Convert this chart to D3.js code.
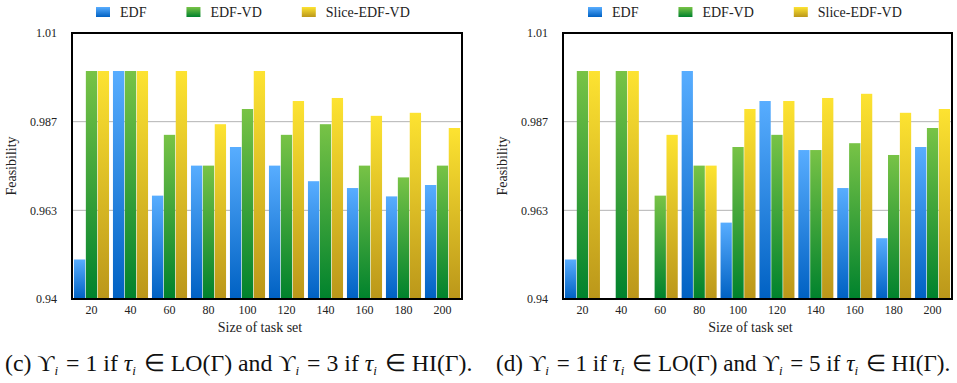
<!DOCTYPE html>
<html>
<head>
<meta charset="utf-8">
<script src="https://cdn.jsdelivr.net/npm/d3@7"></script>
<style>
  body { margin: 0; background: #fff; }
  svg { display: block; }
</style>
</head>
<body>
<svg id="chart" width="957" height="383"></svg>
<script>
// data
var categories = [20, 40, 60, 80, 100, 120, 140, 160, 180, 200];
var seriesNames = ["EDF", "EDF-VD", "Slice-EDF-VD"];
var tickLabels = ["0.94", "0.963", "0.987", "1.01"];

var edfC   = [0.9504, 1.0, 0.9672, 0.9751, 0.980, 0.9751, 0.971, 0.9692, 0.967, 0.970];
var edfvdC = [1.0, 1.0, 0.9832, 0.9751, 0.990, 0.9832, 0.986, 0.9751, 0.972, 0.9751];
var sliceC = [1.0, 1.0, 1.0, 0.986, 1.0, 0.9921, 0.9929, 0.9882, 0.989, 0.985];

var edfD   = [0.9504, 0.94, 0.94, 1.0, 0.9601, 0.9921, 0.9792, 0.9692, 0.956, 0.980];
var edfvdD = [1.0, 1.0, 0.9672, 0.9751, 0.980, 0.9832, 0.9792, 0.981, 0.9779, 0.985];
var sliceD = [1.0, 1.0, 0.9832, 0.9751, 0.990, 0.9921, 0.9929, 0.994, 0.989, 0.990];

var captionC = ["(c) ", ["ϒ", "i"], " = 1 if ", ["τ", "i"], " ∈ LO(Γ) and ", ["ϒ", "i"], " = 3 if ", ["τ", "i"], " ∈ HI(Γ)."];
var captionD = ["(d) ", ["ϒ", "i"], " = 1 if ", ["τ", "i"], " ∈ LO(Γ) and ", ["ϒ", "i"], " = 5 if ", ["τ", "i"], " ∈ HI(Γ)."];

var serif = "'Liberation Serif', 'Times New Roman', serif";

var svg = d3.select("#chart")
    .attr("font-family", serif);

// vertical gradients for each series
var gradStops = [["#58adff", "#0061c3"], ["#78c346", "#00822d"], ["#fde331", "#bb971a"]];
var defs = svg.append("defs");
gradStops.forEach(function(s, i) {
    var lg = defs.append("linearGradient")
        .attr("id", "grad" + i)
        .attr("x1", 0).attr("y1", 0).attr("x2", 0).attr("y2", 1);
    lg.append("stop").attr("offset", "0%").attr("stop-color", s[0]);
    lg.append("stop").attr("offset", "100%").attr("stop-color", s[1]);
});

function drawPanel(left, right, series, legendX) {
    var top = 33, bottom = 299;
    var g = svg.append("g");

    var x = d3.scaleBand()
        .domain(categories)
        .range([left, right])
        .paddingInner(0.1)
        .paddingOuter(0.05);

    var xInner = d3.scaleBand()
        .domain(d3.range(seriesNames.length))
        .range([0, x.bandwidth()])
        .paddingInner(0.05);

    var y = d3.scaleLinear().domain([0.94, 1.01]).range([bottom, top]);
    var tickVals = tickLabels.map(function(d, i) {
        return y.domain()[0] + i * (y.domain()[1] - y.domain()[0]) / (tickLabels.length - 1);
    });

    // gridlines
    g.selectAll(".grid")
        .data(tickVals.slice(1, -1))
        .enter().append("line")
        .attr("x1", left).attr("x2", right)
        .attr("y1", function(d) { return y(d); })
        .attr("y2", function(d) { return y(d); })
        .attr("stroke", "#b4b4b4")
        .attr("stroke-width", 1);

    // bars
    var groups = g.selectAll(".grp")
        .data(categories)
        .enter().append("g")
        .attr("transform", function(d) { return "translate(" + x(d) + ",0)"; });

    groups.selectAll("rect")
        .data(function(d, i) { return series.map(function(s, k) { return { k: k, v: s[i] }; }); })
        .enter().append("rect")
        .attr("x", function(d) { return xInner(d.k); })
        .attr("width", xInner.bandwidth())
        .attr("y", function(d) { return y(d.v); })
        .attr("height", function(d) { return bottom - y(d.v); })
        .attr("fill", function(d) { return "url(#grad" + d.k + ")"; });

    // frame
    g.append("rect")
        .attr("x", left).attr("y", top)
        .attr("width", right - left).attr("height", bottom - top)
        .attr("fill", "none")
        .attr("stroke", "#000")
        .attr("stroke-width", 2);

    // y tick labels
    g.selectAll(".ytick")
        .data(tickVals)
        .enter().append("text")
        .attr("x", left - 15)
        .attr("y", function(d) { return y(d); })
        .attr("dy", "0.35em")
        .attr("text-anchor", "end")
        .attr("font-size", 12)
        .attr("fill", "#222")
        .text(function(d, i) { return tickLabels[i]; });

    // x tick labels
    g.selectAll(".xtick")
        .data(categories)
        .enter().append("text")
        .attr("x", function(d) { return x(d) + x.bandwidth() / 2; })
        .attr("y", bottom + 15)
        .attr("text-anchor", "middle")
        .attr("font-size", 12)
        .attr("fill", "#222")
        .text(function(d) { return d; });

    // axis titles
    g.append("text")
        .attr("x", (left + right) / 2 - 7)
        .attr("y", bottom + 33)
        .attr("text-anchor", "middle")
        .attr("font-size", 14)
        .attr("fill", "#222")
        .text("Size of task set");

    g.append("text")
        .attr("transform", "translate(" + (left - 56) + "," + ((top + bottom) / 2) + ") rotate(-90)")
        .attr("text-anchor", "middle")
        .attr("font-size", 14)
        .attr("fill", "#222")
        .text("Feasibility");

    // legend
    var lx = legendX;
    seriesNames.forEach(function(name, k) {
        g.append("rect")
            .attr("x", lx).attr("y", 7)
            .attr("width", 14).attr("height", 10)
            .attr("fill", "url(#grad" + k + ")");
        var t = g.append("text")
            .attr("x", lx + 24).attr("y", 17)
            .attr("font-size", 14)
            .attr("fill", "#222")
            .text(name);
        lx += 24 + t.node().getComputedTextLength() + 40;
    });
}

drawPanel(72, 462, [edfC, edfvdC, sliceC], 96);
drawPanel(563, 952, [edfD, edfvdD, sliceD], 588);

function drawCaption(parts, x0, width) {
    var t = svg.append("text")
        .attr("x", x0)
        .attr("y", 371)
        .attr("fill", "#111")
        .style("font-size", "19px");
    parts.forEach(function(p) {
        if (typeof p === "string") {
            t.append("tspan").text(p);
        } else {
            t.append("tspan").style("font-style", p[0] === "τ" ? "italic" : "normal").text(p[0]);
            t.append("tspan").attr("dy", 4).style("font-style", "italic").style("font-size", "13px").text(p[1]);
            t.append("tspan").attr("dy", -4).text("\u200a");
        }
    });
    var w = t.node().getComputedTextLength();
    t.style("font-size", (19 * width / w) + "px");
}

drawCaption(captionC, 5, 472);
drawCaption(captionD, 496, 459);
</script>
</body>
</html>
